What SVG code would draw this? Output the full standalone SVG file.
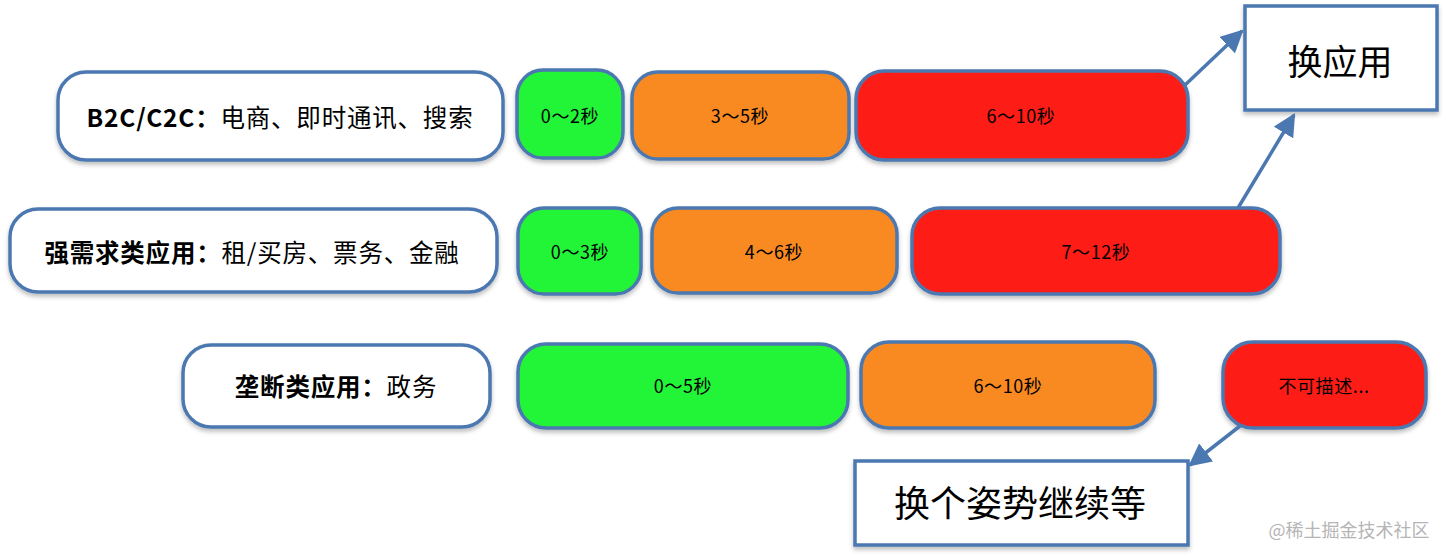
<svg xmlns="http://www.w3.org/2000/svg" width="1446" height="556" viewBox="0 0 1446 556">
<style>
.b{stroke:#4b78b0;stroke-width:3.5}
.w{fill:#ffffff}
.g{fill:#23f538}
.o{fill:#f98a22}
.r{fill:#fd1f19}
.t{font-family:"Noto Sans CJK SC","Noto Sans",sans-serif;fill:#000;text-anchor:middle;dominant-baseline:central}
.s{font-size:18px;letter-spacing:0.6px}
.l{font-size:24.5px;letter-spacing:0.8px}
.c{stroke:#4b78b0;stroke-width:3.5;fill:none;marker-end:url(#ah)}
</style>
<defs>
<filter id="sh" x="-10%" y="-10%" width="120%" height="130%">
<feDropShadow dx="0" dy="3" stdDeviation="2" flood-color="#000" flood-opacity="0.25"/>
</filter>
<marker id="ah" viewBox="0 0 10 10" refX="9" refY="5" markerWidth="6.5" markerHeight="6.5" orient="auto" markerUnits="strokeWidth">
<path d="M0,0 L10,5 L0,10 z" fill="#4b78b0"/>
</marker>
</defs>
<rect width="1446" height="556" fill="#fff"/>
<g id="row1-label"><rect class="b w" filter="url(#sh)" x="58" y="72" width="445" height="88" rx="28"/><text class="t l" x="280" y="116"><tspan font-weight="bold">B2C/C2C：</tspan>电商、即时通讯、搜索</text></g>
<g id="row1-green"><rect class="b g" filter="url(#sh)" x="517" y="70" width="106" height="88" rx="26"/><text class="t s" x="570" y="115">0～2秒</text></g>
<g id="row1-orange"><rect class="b o" filter="url(#sh)" x="632" y="72" width="217" height="87" rx="26"/><text class="t s" x="740" y="115">3～5秒</text></g>
<g id="row1-red"><rect class="b r" filter="url(#sh)" x="856" y="71" width="332" height="89" rx="28"/><text class="t s" x="1021" y="115">6～10秒</text></g>
<g id="row2-label"><rect class="b w" filter="url(#sh)" x="10" y="209" width="487" height="83" rx="28"/><text class="t l" x="252" y="251"><tspan font-weight="bold">强需求类应用：</tspan>租/买房、票务、金融</text></g>
<g id="row2-green"><rect class="b g" filter="url(#sh)" x="518" y="208" width="123" height="86" rx="26"/><text class="t s" x="580" y="251">0～3秒</text></g>
<g id="row2-orange"><rect class="b o" filter="url(#sh)" x="652" y="208" width="245" height="85" rx="26"/><text class="t s" x="774" y="251">4～6秒</text></g>
<g id="row2-red"><rect class="b r" filter="url(#sh)" x="912" y="208" width="368" height="86" rx="28"/><text class="t s" x="1096" y="251">7～12秒</text></g>
<g id="row3-label"><rect class="b w" filter="url(#sh)" x="183" y="345" width="307" height="82" rx="28"/><text class="t l" x="336" y="385"><tspan font-weight="bold">垄断类应用：</tspan>政务</text></g>
<g id="row3-green"><rect class="b g" filter="url(#sh)" x="518" y="344" width="330" height="84" rx="28"/><text class="t s" x="683" y="385">0～5秒</text></g>
<g id="row3-orange"><rect class="b o" filter="url(#sh)" x="861" y="342" width="294" height="86" rx="28"/><text class="t s" x="1008" y="385">6～10秒</text></g>
<g id="row3-red"><rect class="b r" filter="url(#sh)" x="1223" y="342" width="203" height="86" rx="30"/><text class="t s" x="1324" y="385">不可描述...</text></g>
<g id="switch-app"><rect class="b w" filter="url(#sh)" x="1245" y="6" width="192" height="104"/><text class="t" font-size="35" x="1340" y="59">换应用</text></g>
<g id="wait"><rect class="b w" filter="url(#sh)" x="855" y="461" width="333" height="84"/><text class="t" font-size="36" x="1020" y="501">换个姿势继续等</text></g>
<g id="connectors">
<path class="c" d="M1184,86 L1242,31"/>
<path class="c" d="M1238,208 L1294,115"/>
<path class="c" d="M1240,426 L1190,465"/>
</g>
<text x="1349" y="529" font-family="Noto Sans CJK SC,sans-serif" font-size="18" fill="#b5b5b5" text-anchor="middle" dominant-baseline="central">@稀土掘金技术社区</text>
</svg>
